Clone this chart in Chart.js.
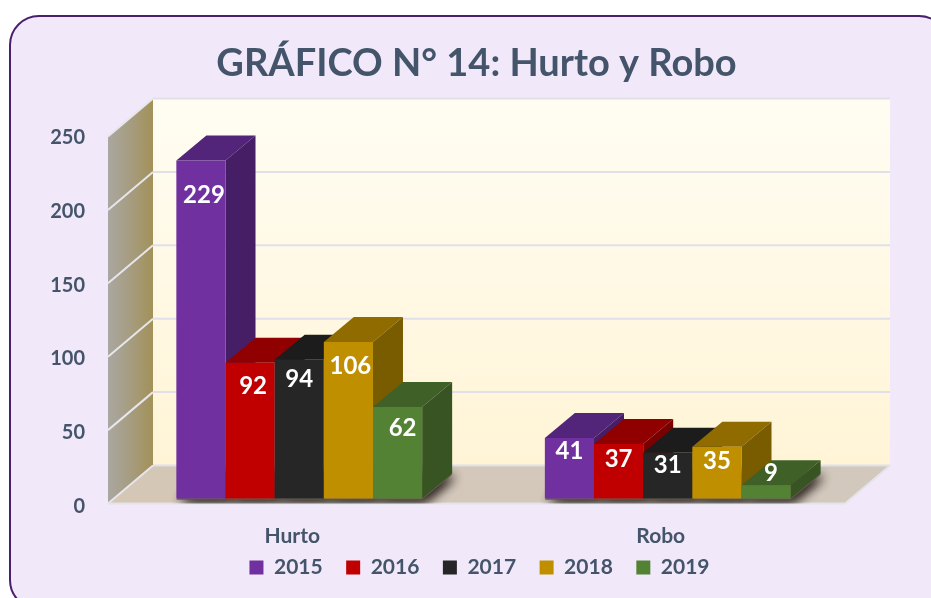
<!DOCTYPE html>
<html>
<head>
<meta charset="utf-8">
<script src="https://cdn.jsdelivr.net/npm/chart.js@4"></script>
<style>
  html, body { margin: 0; padding: 0; background: #fff; overflow: hidden; }
  #wrap { position: relative; width: 931px; height: 598px; overflow: hidden; }
  #panel { position: absolute; left: 9px; top: 15px; width: 940px; height: 595px; box-sizing: border-box;
    background: #f1e8f9; border: 2.5px solid #4a1f6e; border-radius: 30px; }
  #myChart { position: absolute; left: 0; top: 0; }
</style>
</head>
<body>
<div id="wrap">
  <div id="panel"></div>
  <canvas id="myChart" width="931" height="598"></canvas>
</div>
<script>
const categories = ['Hurto', 'Robo'];
const years = ['2015', '2016', '2017', '2018', '2019'];
const values2015 = [229, 41];
const values2016 = [92, 37];
const values2017 = [94, 31];
const values2018 = [106, 35];
const values2019 = [62, 9];
const allValues = [values2015, values2016, values2017, values2018, values2019];

const frontColors = ['#7030a0', '#c00000', '#262626', '#bf8f00', '#548235'];
const topColors = ['#52257a', '#900000', '#1c1c1c', '#8f6b00', '#3f6128'];
const sideColors = ['#451e66', '#7a0000', '#171717', '#7a5c00', '#375422'];

// nudges of the value labels from the bar top, the picture places them by hand
const labelDx = [[3, 0], [3, 0], [0, 0], [2, 0], [5, 5]];
const labelDy = [[35, 13], [24, 15], [19, 13], [24, 14], [21, -12]];

const depthX = 30, depthY = 25;   // bar depth
const wallX = 45, wallY = 38;     // box depth
const textColor = '#44546a';

function poly(ctx, pts, fill) {
  ctx.beginPath();
  pts.forEach((p, i) => i ? ctx.lineTo(p[0], p[1]) : ctx.moveTo(p[0], p[1]));
  ctx.closePath();
  if (fill) { ctx.fillStyle = fill; ctx.fill(); }
}

const box3d = {
  id: 'box3d',
  afterLayout(chart) {
    // title and legend are not centred on the canvas in the picture
    chart.titleBlock.left += 26;
    chart.titleBlock.right += 26;
    chart.legend.left += 29;
    chart.legend.right += 29;
    chart.legend.top -= 15;
    chart.legend.bottom -= 15;
  },
  beforeDatasetsDraw(chart) {
    const { ctx, chartArea, scales } = chart;
    const left = chartArea.left - 7, right = chartArea.right - 7;
    const y0 = scales.y.getPixelForValue(0) + 5;
    const yTop = scales.y.getPixelForValue(250) + 7;
    ctx.save();

    // back wall
    let g = ctx.createLinearGradient(0, yTop - wallY, 0, y0 - wallY);
    g.addColorStop(0, '#fffdf3');
    g.addColorStop(1, '#fff4d6');
    ctx.fillStyle = g;
    ctx.fillRect(left + wallX, yTop - wallY, right - left, y0 - yTop);

    // side wall
    g = ctx.createLinearGradient(left, 0, left + wallX, 0);
    g.addColorStop(0, '#a9a7a0');
    g.addColorStop(0.5, '#a69c80');
    g.addColorStop(1, '#a39159');
    poly(ctx, [[left, yTop], [left + wallX, yTop - wallY], [left + wallX, y0 - wallY], [left, y0]], g);

    // floor
    g = ctx.createLinearGradient(left, 0, right + wallX, 0);
    g.addColorStop(0, '#d5c7b6');
    g.addColorStop(1, '#d2c8bd');
    poly(ctx, [[left, y0], [left + wallX, y0 - wallY], [right + wallX, y0 - wallY], [right, y0]], g);

    // grid lines
    ctx.lineWidth = 2;
    scales.y.ticks.forEach(t => {
      const y = yTop + (y0 - yTop) * (1 - t.value / 250);
      ctx.strokeStyle = '#e6e6ec';
      ctx.beginPath();
      ctx.moveTo(left, y);
      ctx.lineTo(left + wallX, y - wallY);
      ctx.stroke();
      ctx.strokeStyle = '#e0e0ea';
      ctx.beginPath();
      ctx.moveTo(left + wallX, y - wallY);
      ctx.lineTo(right + wallX, y - wallY);
      ctx.stroke();
    });
    ctx.strokeStyle = '#e3e3ea';
    ctx.beginPath();
    ctx.moveTo(left, y0);
    ctx.lineTo(right, y0);
    ctx.lineTo(right + wallX, y0 - wallY);
    ctx.stroke();

    // soft shadow of the bars on the floor
    ctx.beginPath();
    ctx.moveTo(left, y0);
    ctx.lineTo(left + wallX, y0 - wallY);
    ctx.lineTo(right + wallX, y0 - wallY);
    ctx.lineTo(right, y0);
    ctx.closePath();
    ctx.clip();
    ctx.shadowColor = 'rgba(45,38,32,0.9)';
    ctx.shadowBlur = 12;
    ctx.shadowOffsetX = 3;
    ctx.shadowOffsetY = 2;
    for (let pass = 0; pass < 2; pass++) {
      allValues.forEach((_, d) => chart.getDatasetMeta(d).data.forEach(bar => {
        const x0 = bar.x - bar.width / 2, x1 = bar.x + bar.width / 2, b = bar.base + 1;
        poly(ctx, [[x0, b], [x1, b], [x1 + depthX, b - depthY], [x0 + depthX, b - depthY]], '#6b6057');
      }));
    }
    ctx.restore();
  },
  // own drawing pass: left to right, so each bar covers the side of the one before
  beforeDatasetDraw() { return false; },
  afterDatasetsDraw(chart) {
    const ctx = chart.ctx;
    allValues.forEach((_, d) => {
      chart.getDatasetMeta(d).data.forEach(bar => {
        const x1 = bar.x + bar.width / 2, x0 = bar.x - bar.width / 2;
        poly(ctx, [[x0, bar.y], [x0 + depthX, bar.y - depthY], [x1 + depthX, bar.y - depthY], [x1, bar.y]], topColors[d]);
        poly(ctx, [[x1, bar.y], [x1 + depthX, bar.y - depthY], [x1 + depthX, bar.base - depthY], [x1, bar.base]], sideColors[d]);
        bar.draw(ctx);
      });
    });
    ctx.save();
    ctx.font = 'bold 24px Lato';
    ctx.fillStyle = '#fff';
    ctx.textAlign = 'center';
    ctx.textBaseline = 'middle';
    allValues.forEach((vals, d) => {
      chart.getDatasetMeta(d).data.forEach((bar, i) => {
        ctx.fillText(vals[i], bar.x + labelDx[d][i], bar.y + labelDy[d][i]);
      });
    });
    ctx.restore();
  }
};

const myChart = new Chart(document.getElementById('myChart').getContext('2d'), {
  type: 'bar',
  data: {
    labels: categories,
    datasets: years.map((year, d) => ({
      label: year,
      data: allValues[d],
      backgroundColor: frontColors[d],
      barPercentage: 1,
      categoryPercentage: 0.667
    }))
  },
  options: {
    responsive: false,
    animation: false,
    layout: { padding: { left: 49, right: 79, top: 12, bottom: -5 } },
    scales: {
      x: {
        grid: { display: false },
        border: { display: false },
        afterFit(scale) { scale.height = 50; },
        ticks: { color: textColor, font: { family: 'Lato', weight: 'bold', size: 21 }, labelOffset: -7, padding: 17 }
      },
      y: {
        min: 0,
        max: 250,
        grid: { display: false },
        border: { display: false },
        afterFit(scale) { scale.width = 66; },
        ticks: { stepSize: 50, color: textColor, font: { family: 'Lato', weight: 'bold', size: 20 }, labelOffset: 8, padding: 22 }
      }
    },
    plugins: {
      title: {
        display: true,
        text: 'GRÁFICO N° 14: Hurto y Robo',
        color: textColor,
        font: { family: 'Lato', weight: 'bold', size: 38 },
        padding: { top: 29, bottom: 43 }
      },
      legend: {
        position: 'bottom',
        labels: {
          color: textColor,
          font: { family: 'Lato', weight: 'bold', size: 21 },
          boxWidth: 14,
          boxHeight: 14,
          padding: 23.5
        }
      },
      tooltip: { enabled: false }
    }
  },
  plugins: [box3d]
});
</script>
</body>
</html>
